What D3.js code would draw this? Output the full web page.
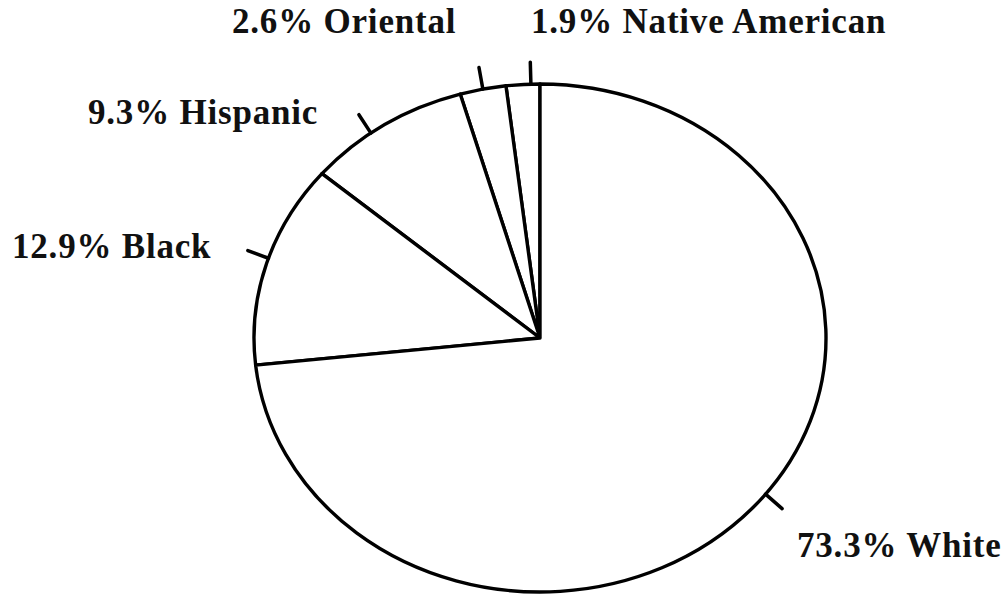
<!DOCTYPE html>
<html>
<head>
<meta charset="utf-8">
<script src="https://cdn.jsdelivr.net/npm/d3@7"></script>
<style>
  html, body { margin: 0; padding: 0; background: #fff; }
  svg { display: block; }
  .label { font-family: "Liberation Serif", "DejaVu Serif", serif; font-weight: bold; font-size: 35px; letter-spacing: 0.8px; fill: #111; }
</style>
</head>
<body>
<svg id="chart" width="1005" height="594"></svg>
<script>
// Population shares, in order going counter-clockwise from 12 o'clock
const groups = ["Native American", "Oriental", "Hispanic", "Black", "White"];
const shares = [1.9, 2.6, 9.3, 12.9, 73.3];

// Label anchor points (left edge, baseline) for each group
const labelPos = [[531, 33], [232, 33], [88, 124], [12, 258], [797, 557]];
// Small nudges (degrees) of each leader tick away from the slice middle
const tickNudge = [1.6, 0, -3.3, 1.2, -4];

const W = 1005, H = 594;
const cx = 540, cy = 338, rx = 286, ry = 254;

const svg = d3.select("#chart");

const pie = d3.pie().sort(null).value(d => d).startAngle(0).endAngle(-2 * Math.PI);
const slices = pie(shares);

// The pie is slightly wider than tall: draw a circle of radius ry, stretched horizontally
const g = svg.append("g").attr("transform", `translate(${cx},${cy}) scale(${rx / ry},1)`);
const arc = d3.arc().innerRadius(0).outerRadius(ry);

g.selectAll("path.slice")
  .data(slices)
  .join("path")
  .attr("class", "slice")
  .attr("d", arc)
  .attr("fill", "#fff")
  .attr("stroke", "#000")
  .attr("stroke-width", 3.4)
  .attr("stroke-linejoin", "round")
  .attr("vector-effect", "non-scaling-stroke");

// Point on the ellipse for a d3 angle (clockwise from top)
const onEllipse = a => [cx + rx * Math.sin(a), cy - ry * Math.cos(a)];
const normal = a => {
  const nx = Math.sin(a) / rx, ny = -Math.cos(a) / ry;
  const len = Math.hypot(nx, ny);
  return [nx / len, ny / len];
};

// Short tick marks pointing out from each slice
const tickLen = 22;
svg.selectAll("line.tick")
  .data(slices)
  .join("line")
  .attr("class", "tick")
  .each(function(d, i) {
    const a = (d.startAngle + d.endAngle) / 2 + tickNudge[i] * Math.PI / 180;
    const [x, y] = onEllipse(a);
    const [nx, ny] = normal(a);
    d3.select(this)
      .attr("x1", x).attr("y1", y)
      .attr("x2", x + nx * tickLen).attr("y2", y + ny * tickLen);
  })
  .attr("stroke", "#000")
  .attr("stroke-width", 3.5)
  .attr("stroke-linecap", "round");

// Labels
svg.selectAll("text.label")
  .data(slices)
  .join("text")
  .attr("class", "label")
  .attr("x", (d, i) => labelPos[i][0])
  .attr("y", (d, i) => labelPos[i][1])
  .text((d, i) => `${d3.format(".1f")(shares[i])}% ${groups[i]}`);
</script>
</body>
</html>
